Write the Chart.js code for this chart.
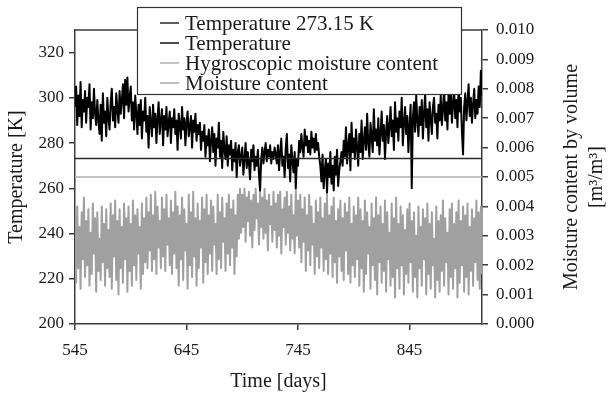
<!DOCTYPE html>
<html>
<head>
<meta charset="utf-8">
<script src="https://cdn.jsdelivr.net/npm/chart.js@4.4.1/dist/chart.umd.min.js"></script>
<style>
  html, body { margin: 0; padding: 0; background: #fff; }
  #wrap { width: 609px; height: 399px; }
</style>
</head>
<body>
<div id="wrap"><canvas id="c" width="609" height="399"></canvas></div>
<script>
// ---------- DATA ----------
const firstDay = 545;
const lastDay = 910;
const xTickLabels = [545, 645, 745, 845];
const temperatureTicks = [200, 220, 240, 260, 280, 300, 320];
const moistureTicks = [0.000, 0.001, 0.002, 0.003, 0.004, 0.005, 0.006, 0.007, 0.008, 0.009, 0.010];

const freezingTemperature = 273.15;     // K
const hygroscopicMoisture = 0.0050;     // m3/m3

// daily temperature, days 545 .. 910 [K]
const temperatureK = [
  296, 305, 288, 301, 292, 307, 287, 299, 294, 303,
  289, 300, 296, 306, 286, 298, 291, 304, 293, 288,
  299, 290, 284, 297, 281, 302, 289, 294, 283, 300,
  291, 286, 298, 304, 290, 296, 287, 302, 295, 289,
  303, 293, 299, 306, 291, 308, 297, 309, 294, 300,
  305, 290, 298, 286, 301, 293, 284, 297, 288, 299,
  282, 294, 290, 300, 285, 292, 278, 296, 289, 283,
  297, 287, 293, 280, 291, 298, 284, 290, 295, 279,
  292, 286, 296, 283, 289, 294, 280, 291, 287, 295,
  284, 290, 277, 293, 288, 282, 296, 286, 291, 279,
  289, 294, 283, 287, 292, 278, 290, 285, 293, 281,
  288, 284, 289, 277, 285, 281, 288, 274, 283, 279,
  286, 272, 281, 287, 276, 284, 270, 282, 278, 289,
  274, 281, 269, 285, 277, 273, 283, 270, 279, 275,
  281, 268, 277, 272, 280, 265, 276, 279, 270, 274,
  278, 266, 273, 280, 269, 276, 271, 264, 277, 272,
  279, 268, 274, 270, 277, 266, 259, 273, 278, 271,
  276, 280, 272, 277, 274, 279, 271, 276, 273, 278,
  275, 271, 279, 268, 276, 282, 270, 274, 265, 278,
  284, 269, 275, 263, 279, 272, 267, 276, 260, 273,
  270, 281, 276, 284, 278, 274, 286, 279, 283, 276,
  281, 275, 285, 278, 282, 276, 284, 277, 280, 274,
  270, 263, 275, 260, 268, 273, 258, 271, 265, 276,
  262, 270, 259, 274, 266, 277, 261, 268, 272, 276,
  270, 281, 274, 287, 271, 279, 284, 268, 289, 276,
  282, 273, 286, 278, 270, 284, 276, 290, 273, 281,
  287, 277, 293, 280, 274, 289, 283, 276, 295, 281,
  286, 279, 291, 275, 284, 294, 281, 288, 273, 285,
  292, 280, 287, 296, 283, 290, 277, 298, 285, 291,
  281, 294, 287, 300, 279, 289, 296, 284, 292, 276,
  288, 297, 260, 291, 298, 285, 301, 290, 283, 296,
  288, 299, 282, 293, 302, 287, 295, 281, 298, 291,
  284, 296, 300, 289, 293, 282, 297, 290, 301, 288,
  295, 304, 290, 298, 286, 302, 293, 306, 289, 297,
  303, 291, 299, 287, 305, 294, 300, 285, 275, 296,
  302, 290, 298, 306, 292, 300, 289, 297, 304, 291,
  299, 293, 305, 296, 312, 301
];

// daily moisture content by volume, days 545 .. 910 [m3/m3]
const moistureContent = [
  0.0036, 0.0014, 0.0040, 0.0019, 0.0033, 0.0012, 0.0038, 0.0022, 0.0043, 0.0016,
  0.0035, 0.0020, 0.0039, 0.0013, 0.0031, 0.0017, 0.0041, 0.0024, 0.0036, 0.0011,
  0.0038, 0.0018, 0.0029, 0.0015, 0.0040, 0.0021, 0.0034, 0.0013, 0.0039, 0.0019,
  0.0032, 0.0016, 0.0041, 0.0012, 0.0037, 0.0023, 0.0042, 0.0015, 0.0035, 0.0010,
  0.0039, 0.0019, 0.0033, 0.0014, 0.0041, 0.0022, 0.0036, 0.0011, 0.0040, 0.0018,
  0.0034, 0.0013, 0.0042, 0.0020, 0.0037, 0.0015, 0.0039, 0.0024, 0.0033, 0.0012,
  0.0041, 0.0017, 0.0036, 0.0021, 0.0043, 0.0019, 0.0038, 0.0025, 0.0044, 0.0018,
  0.0037, 0.0022, 0.0045, 0.0017, 0.0040, 0.0026, 0.0035, 0.0019, 0.0043, 0.0023,
  0.0039, 0.0018, 0.0044, 0.0027, 0.0036, 0.0020, 0.0042, 0.0017, 0.0038, 0.0024,
  0.0045, 0.0019, 0.0040, 0.0013, 0.0037, 0.0022, 0.0043, 0.0015, 0.0039, 0.0025,
  0.0034, 0.0012, 0.0044, 0.0020, 0.0038, 0.0016, 0.0045, 0.0023, 0.0036, 0.0013,
  0.0041, 0.0019, 0.0035, 0.0026, 0.0043, 0.0014, 0.0039, 0.0021, 0.0044, 0.0017,
  0.0037, 0.0024, 0.0042, 0.0018, 0.0040, 0.0027, 0.0034, 0.0017, 0.0044, 0.0022,
  0.0038, 0.0019, 0.0043, 0.0028, 0.0036, 0.0018, 0.0041, 0.0024, 0.0044, 0.0020,
  0.0039, 0.0026, 0.0042, 0.0017, 0.0037, 0.0023, 0.0044, 0.0029, 0.0046, 0.0031,
  0.0044, 0.0033, 0.0046, 0.0028, 0.0043, 0.0035, 0.0045, 0.0030, 0.0042, 0.0026,
  0.0044, 0.0032, 0.0046, 0.0036, 0.0041, 0.0027, 0.0045, 0.0033, 0.0043, 0.0029,
  0.0046, 0.0031, 0.0042, 0.0025, 0.0044, 0.0034, 0.0040, 0.0028, 0.0045, 0.0032,
  0.0041, 0.0026, 0.0044, 0.0030, 0.0045, 0.0024, 0.0039, 0.0033, 0.0043, 0.0027,
  0.0045, 0.0031, 0.0040, 0.0025, 0.0044, 0.0029, 0.0037, 0.0024, 0.0046, 0.0030,
  0.0042, 0.0026, 0.0044, 0.0021, 0.0039, 0.0028, 0.0043, 0.0018, 0.0037, 0.0025,
  0.0044, 0.0020, 0.0040, 0.0027, 0.0034, 0.0017, 0.0042, 0.0023, 0.0038, 0.0019,
  0.0043, 0.0026, 0.0036, 0.0018, 0.0041, 0.0022, 0.0044, 0.0017, 0.0037, 0.0024,
  0.0040, 0.0016, 0.0043, 0.0021, 0.0035, 0.0014, 0.0039, 0.0023, 0.0042, 0.0018,
  0.0036, 0.0015, 0.0041, 0.0025, 0.0038, 0.0017, 0.0043, 0.0014, 0.0034, 0.0020,
  0.0040, 0.0016, 0.0037, 0.0022, 0.0043, 0.0013, 0.0039, 0.0019, 0.0035, 0.0011,
  0.0042, 0.0017, 0.0038, 0.0024, 0.0033, 0.0012, 0.0041, 0.0020, 0.0036, 0.0015,
  0.0043, 0.0010, 0.0037, 0.0021, 0.0040, 0.0014, 0.0034, 0.0018, 0.0042, 0.0011,
  0.0038, 0.0022, 0.0031, 0.0013, 0.0041, 0.0016, 0.0036, 0.0009, 0.0043, 0.0019,
  0.0034, 0.0012, 0.0040, 0.0020, 0.0037, 0.0010, 0.0032, 0.0017, 0.0039, 0.0014,
  0.0041, 0.0021, 0.0035, 0.0011, 0.0038, 0.0016, 0.0030, 0.0009, 0.0040, 0.0019,
  0.0033, 0.0013, 0.0039, 0.0022, 0.0036, 0.0010, 0.0041, 0.0017, 0.0034, 0.0012,
  0.0038, 0.0020, 0.0029, 0.0009, 0.0040, 0.0015, 0.0035, 0.0011, 0.0037, 0.0018,
  0.0042, 0.0013, 0.0036, 0.0021, 0.0031, 0.0010, 0.0039, 0.0016, 0.0041, 0.0012,
  0.0034, 0.0019, 0.0038, 0.0009, 0.0042, 0.0014, 0.0035, 0.0020, 0.0040, 0.0011,
  0.0037, 0.0016, 0.0041, 0.0010, 0.0033, 0.0018, 0.0039, 0.0013, 0.0036, 0.0021,
  0.0042, 0.0015, 0.0038, 0.0012, 0.0040, 0.0017
];

const seriesLabels = ['Temperature 273.15 K', 'Temperature', 'Hygroscopic moisture content', 'Moisture content'];

// ---------- BUILD ----------
const FONT = '"Liberation Serif", "Times New Roman", serif';
const AXIS = '#3c3c3c';
const TEXT = '#1a1a1a';

const toPoints = arr => arr.map((v, i) => ({ x: firstDay + i, y: v }));

const overlayPlugin = {
  id: 'overlay',
  afterDraw(chart) {
    const ctx = chart.ctx;
    const a = chart.chartArea;
    ctx.save();
    // top frame line
    ctx.strokeStyle = AXIS;
    ctx.lineWidth = 1.5;
    ctx.beginPath();
    ctx.moveTo(a.left, a.top);
    ctx.lineTo(a.right, a.top);
    ctx.stroke();

    // legend box
    const bx = 137, by = 7, bw = 324, bh = 87;
    ctx.fillStyle = '#fff';
    ctx.fillRect(bx, by, bw, bh);
    ctx.strokeStyle = '#333';
    ctx.lineWidth = 1.2;
    ctx.strokeRect(bx + 0.5, by + 0.5, bw, bh);
    ctx.font = '21px ' + FONT;
    ctx.textBaseline = 'middle';
    ctx.textAlign = 'left';
    chart.data.datasets.forEach((ds, i) => {
      const cy = 23 + i * 20;
      ctx.strokeStyle = ds.legendColor;
      ctx.lineWidth = 1.5;
      ctx.beginPath();
      ctx.moveTo(160, cy);
      ctx.lineTo(179, cy);
      ctx.stroke();
      ctx.fillStyle = TEXT;
      ctx.fillText(ds.label, 185, cy + 1);
    });

    // right axis title (reads bottom to top)
    const cyMid = (a.top + a.bottom) / 2;
    ctx.translate(572, cyMid);
    ctx.rotate(-Math.PI / 2);
    ctx.textAlign = 'center';
    ctx.font = '20px ' + FONT;
    ctx.fillStyle = TEXT;
    ctx.fillText('Moisture content by volume', 0, 0);
    ctx.fillText('[m\u00B3/m\u00B3]', 0, 25);
    ctx.restore();
  }
};

new Chart(document.getElementById('c'), {
  type: 'line',
  data: {
    datasets: [
      {
        label: seriesLabels[0],
        data: [{ x: firstDay, y: freezingTemperature }, { x: lastDay, y: freezingTemperature }],
        yAxisID: 'y',
        borderColor: '#2a2a2a',
        legendColor: '#2a2a2a',
        borderWidth: 1.5
      },
      {
        label: seriesLabels[1],
        data: toPoints(temperatureK),
        yAxisID: 'y',
        borderColor: '#000',
        legendColor: '#111',
        borderWidth: 2
      },
      {
        label: seriesLabels[2],
        data: [{ x: firstDay, y: hygroscopicMoisture }, { x: lastDay, y: hygroscopicMoisture }],
        yAxisID: 'y2',
        borderColor: '#b0b0b0',
        legendColor: '#b0b0b0',
        borderWidth: 1.5
      },
      {
        label: seriesLabels[3],
        data: toPoints(moistureContent),
        yAxisID: 'y2',
        borderColor: '#a0a0a0',
        legendColor: '#a8a8a8',
        borderWidth: 2
      }
    ]
  },
  options: {
    responsive: false,
    animation: false,
    devicePixelRatio: 1,
    layout: { padding: { top: 30, left: 0, right: 0, bottom: 0 } },
    elements: {
      point: { radius: 0 },
      line: { tension: 0, borderJoinStyle: 'round', borderCapStyle: 'butt' }
    },
    plugins: {
      legend: { display: false },
      tooltip: { enabled: false }
    },
    scales: {
      x: {
        type: 'linear',
        min: firstDay,
        max: lastDay,
        afterBuildTicks: s => { s.ticks = xTickLabels.map(v => ({ value: v })); },
        afterFit: s => { s.height = 75; },
        ticks: { font: { family: FONT, size: 17 }, color: TEXT, padding: 10, maxRotation: 0 },
        grid: { drawOnChartArea: false, drawTicks: true, tickLength: 6, color: AXIS, lineWidth: 1.5 },
        border: { display: true, color: AXIS, width: 1.5 },
        title: { display: true, text: 'Time [days]', font: { family: FONT, size: 20 }, color: TEXT, padding: { top: 0, bottom: 5 } }
      },
      y: {
        position: 'left',
        min: 200,
        max: 330,
        afterBuildTicks: s => { s.ticks = temperatureTicks.map(v => ({ value: v })); },
        afterFit: s => { s.width = 75; },
        ticks: { font: { family: FONT, size: 17 }, color: TEXT, padding: 5 },
        grid: { drawOnChartArea: false, drawTicks: true, tickLength: 6, color: AXIS, lineWidth: 1.5 },
        border: { display: true, color: AXIS, width: 1.5 },
        title: { display: true, text: 'Temperature [K]', font: { family: FONT, size: 20 }, color: TEXT, padding: { top: 5, bottom: 0 } }
      },
      y2: {
        position: 'right',
        min: 0,
        max: 0.010,
        afterBuildTicks: s => { s.ticks = moistureTicks.map(v => ({ value: v })); },
        afterFit: s => { s.width = 127; },
        ticks: { font: { family: FONT, size: 17 }, color: TEXT, padding: 8, callback: v => Number(v).toFixed(3) },
        grid: { drawOnChartArea: false, drawTicks: true, tickLength: 6, color: AXIS, lineWidth: 1.5 },
        border: { display: true, color: AXIS, width: 1.5 },
        title: { display: false }
      }
    }
  },
  plugins: [overlayPlugin]
});
</script>
</body>
</html>
